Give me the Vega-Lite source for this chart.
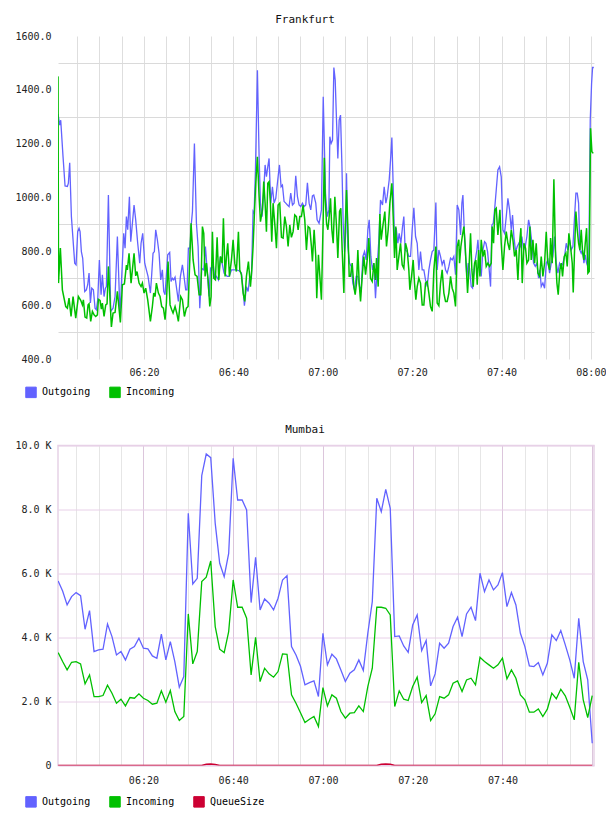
{
"$schema":"https://vega.github.io/schema/vega-lite/v6.json",
"background":"white",
"padding":{"left":14,"top":14,"right":0,"bottom":0},
"spacing":22.5,
"config":{
 "font":"DejaVu Sans Mono",
 "view":{"stroke":null},
 "axis":{"labelFont":"DejaVu Sans Mono","labelFontSize":10,"labelColor":"#222","domain":false,"ticks":false,"title":null,"labelOverlap":false,"labelFlush":false},
 "legend":{"orient":"none","legendX":-33,"legendY":350,"direction":"horizontal","title":null,"symbolType":"square","symbolSize":110,"labelFont":"DejaVu Sans Mono","labelFontSize":10,"labelColor":"#000","labelOffset":5,"columnPadding":16}
},
"datasets":{
"fraOut":[{"t":0.75,"v":1310},{"t":1.13,"v":1269},{"t":1.35,"v":1287},{"t":1.87,"v":1151},{"t":2.32,"v":1043},{"t":2.84,"v":1041},{"t":3.06,"v":1053},{"t":3.36,"v":1129},{"t":3.74,"v":929},{"t":4.48,"v":756},{"t":4.78,"v":750},{"t":5.15,"v":873},{"t":5.45,"v":886},{"t":5.68,"v":873},{"t":5.97,"v":799},{"t":6.27,"v":774},{"t":6.72,"v":651},{"t":7.09,"v":657},{"t":7.39,"v":676},{"t":7.69,"v":719},{"t":7.99,"v":608},{"t":8.29,"v":663},{"t":8.66,"v":657},{"t":9.03,"v":589},{"t":9.33,"v":583},{"t":9.63,"v":620},{"t":10.0,"v":768},{"t":10.38,"v":639},{"t":10.67,"v":713},{"t":11.05,"v":632},{"t":11.35,"v":663},{"t":11.57,"v":669},{"t":12.02,"v":1009},{"t":12.54,"v":577},{"t":13.06,"v":589},{"t":13.51,"v":632},{"t":14.03,"v":855},{"t":14.63,"v":558},{"t":15.0,"v":707},{"t":15.45,"v":867},{"t":15.75,"v":812},{"t":16.05,"v":929},{"t":16.34,"v":880},{"t":16.72,"v":1003},{"t":17.02,"v":836},{"t":17.39,"v":904},{"t":17.76,"v":972},{"t":18.13,"v":917},{"t":18.58,"v":830},{"t":19.03,"v":756},{"t":19.33,"v":830},{"t":19.7,"v":867},{"t":20.15,"v":756},{"t":20.52,"v":731},{"t":20.89,"v":707},{"t":21.42,"v":645},{"t":21.71,"v":713},{"t":22.01,"v":793},{"t":22.31,"v":799},{"t":22.61,"v":880},{"t":22.98,"v":843},{"t":23.36,"v":793},{"t":23.73,"v":694},{"t":24.1,"v":731},{"t":24.4,"v":651},{"t":24.7,"v":639},{"t":25.3,"v":787},{"t":25.74,"v":796},{"t":26.04,"v":688},{"t":26.34,"v":700},{"t":26.64,"v":694},{"t":26.94,"v":704},{"t":27.68,"v":614},{"t":28.13,"v":706},{"t":28.58,"v":750},{"t":28.95,"v":706},{"t":29.32,"v":657},{"t":29.62,"v":657},{"t":29.92,"v":812},{"t":30.29,"v":812},{"t":30.59,"v":904},{"t":30.83,"v":948},{"t":31.27,"v":1201},{"t":31.72,"v":904},{"t":32.1,"v":818},{"t":32.47,"v":589},{"t":32.92,"v":737},{"t":33.36,"v":731},{"t":33.74,"v":818},{"t":34.11,"v":731},{"t":34.56,"v":632},{"t":34.86,"v":737},{"t":35.15,"v":731},{"t":35.45,"v":756},{"t":35.83,"v":700},{"t":36.2,"v":707},{"t":36.65,"v":694},{"t":37.09,"v":781},{"t":37.47,"v":756},{"t":37.91,"v":719},{"t":38.29,"v":713},{"t":38.59,"v":707},{"t":39.03,"v":707},{"t":39.56,"v":731},{"t":40.08,"v":731},{"t":40.67,"v":731},{"t":41.27,"v":728},{"t":41.79,"v":719},{"t":42.17,"v":657},{"t":42.46,"v":598},{"t":42.91,"v":669},{"t":43.29,"v":651},{"t":43.66,"v":707},{"t":44.03,"v":700},{"t":44.4,"v":948},{"t":44.63,"v":941},{"t":44.93,"v":1102},{"t":45.37,"v":1473},{"t":45.75,"v":1151},{"t":46.05,"v":979},{"t":46.42,"v":929},{"t":46.79,"v":1028},{"t":47.09,"v":1121},{"t":47.39,"v":1077},{"t":47.69,"v":1114},{"t":47.98,"v":1145},{"t":48.36,"v":979},{"t":48.73,"v":1040},{"t":49.1,"v":979},{"t":49.48,"v":997},{"t":49.92,"v":1065},{"t":50.3,"v":1121},{"t":50.67,"v":1040},{"t":50.97,"v":1046},{"t":51.34,"v":985},{"t":51.71,"v":979},{"t":52.09,"v":972},{"t":52.46,"v":966},{"t":52.83,"v":1016},{"t":53.21,"v":972},{"t":53.58,"v":979},{"t":53.95,"v":1081},{"t":54.33,"v":1003},{"t":54.7,"v":972},{"t":55.07,"v":966},{"t":55.44,"v":979},{"t":55.82,"v":966},{"t":56.19,"v":972},{"t":56.56,"v":1055},{"t":56.94,"v":979},{"t":57.31,"v":954},{"t":57.68,"v":1006},{"t":57.98,"v":1009},{"t":58.43,"v":979},{"t":58.73,"v":917},{"t":59.17,"v":904},{"t":59.7,"v":954},{"t":60.1,"v":1374},{"t":60.61,"v":1016},{"t":60.99,"v":929},{"t":61.36,"v":954},{"t":61.58,"v":1226},{"t":61.88,"v":1201},{"t":62.18,"v":1213},{"t":62.48,"v":1483},{"t":62.78,"v":1436},{"t":63.07,"v":1288},{"t":63.37,"v":1145},{"t":63.67,"v":1288},{"t":63.97,"v":1306},{"t":64.27,"v":1127},{"t":64.57,"v":904},{"t":64.87,"v":799},{"t":65.16,"v":873},{"t":65.31,"v":1090},{"t":65.61,"v":818},{"t":65.98,"v":756},{"t":66.36,"v":744},{"t":66.73,"v":682},{"t":67.1,"v":657},{"t":67.48,"v":707},{"t":67.85,"v":707},{"t":68.22,"v":669},{"t":68.6,"v":657},{"t":68.97,"v":781},{"t":69.34,"v":799},{"t":69.71,"v":768},{"t":70.09,"v":880},{"t":70.39,"v":917},{"t":70.76,"v":781},{"t":71.13,"v":731},{"t":71.43,"v":756},{"t":71.8,"v":626},{"t":72.18,"v":744},{"t":72.55,"v":843},{"t":72.92,"v":991},{"t":73.37,"v":972},{"t":73.74,"v":1040},{"t":74.12,"v":979},{"t":74.41,"v":1003},{"t":74.86,"v":1065},{"t":75.16,"v":1139},{"t":75.46,"v":1223},{"t":75.76,"v":1040},{"t":76.06,"v":830},{"t":76.43,"v":886},{"t":76.8,"v":830},{"t":77.1,"v":867},{"t":77.47,"v":830},{"t":77.85,"v":892},{"t":78.14,"v":929},{"t":78.44,"v":805},{"t":78.89,"v":799},{"t":79.26,"v":781},{"t":79.64,"v":781},{"t":80.01,"v":880},{"t":80.38,"v":962},{"t":80.76,"v":855},{"t":81.13,"v":830},{"t":81.5,"v":731},{"t":81.87,"v":799},{"t":82.25,"v":731},{"t":82.62,"v":731},{"t":82.99,"v":694},{"t":83.37,"v":669},{"t":83.74,"v":731},{"t":84.11,"v":768},{"t":84.49,"v":799},{"t":84.86,"v":805},{"t":85.31,"v":981},{"t":85.6,"v":731},{"t":85.98,"v":805},{"t":86.35,"v":781},{"t":86.72,"v":750},{"t":87.1,"v":768},{"t":87.47,"v":731},{"t":87.84,"v":719},{"t":88.22,"v":744},{"t":88.59,"v":775},{"t":88.96,"v":768},{"t":89.33,"v":781},{"t":89.71,"v":713},{"t":90.08,"v":972},{"t":90.45,"v":954},{"t":90.84,"v":861},{"t":91.13,"v":979},{"t":91.36,"v":1009},{"t":91.66,"v":880},{"t":91.96,"v":781},{"t":92.25,"v":707},{"t":92.55,"v":756},{"t":92.85,"v":737},{"t":93.22,"v":669},{"t":93.52,"v":663},{"t":93.82,"v":731},{"t":94.12,"v":768},{"t":94.49,"v":805},{"t":94.72,"v":843},{"t":95.09,"v":750},{"t":95.46,"v":707},{"t":95.84,"v":805},{"t":96.21,"v":836},{"t":96.51,"v":830},{"t":96.88,"v":799},{"t":97.18,"v":744},{"t":97.55,"v":669},{"t":97.85,"v":898},{"t":98.15,"v":904},{"t":98.45,"v":954},{"t":98.82,"v":1028},{"t":99.19,"v":1102},{"t":99.57,"v":1114},{"t":99.94,"v":1077},{"t":100.31,"v":880},{"t":100.68,"v":867},{"t":101.06,"v":929},{"t":101.43,"v":997},{"t":101.8,"v":954},{"t":102.18,"v":880},{"t":102.47,"v":935},{"t":102.77,"v":855},{"t":103.15,"v":799},{"t":103.52,"v":818},{"t":103.89,"v":830},{"t":104.27,"v":818},{"t":104.56,"v":855},{"t":104.94,"v":805},{"t":105.31,"v":818},{"t":105.68,"v":855},{"t":106.06,"v":917},{"t":106.43,"v":886},{"t":106.8,"v":830},{"t":107.17,"v":756},{"t":107.55,"v":744},{"t":107.92,"v":756},{"t":108.29,"v":700},{"t":108.59,"v":731},{"t":108.89,"v":669},{"t":109.26,"v":682},{"t":109.64,"v":663},{"t":110.01,"v":756},{"t":110.38,"v":768},{"t":110.76,"v":719},{"t":111.13,"v":756},{"t":111.5,"v":781},{"t":111.87,"v":855},{"t":112.25,"v":756},{"t":112.62,"v":719},{"t":112.99,"v":756},{"t":113.37,"v":744},{"t":113.74,"v":756},{"t":114.11,"v":781},{"t":114.49,"v":830},{"t":114.86,"v":805},{"t":115.23,"v":843},{"t":115.6,"v":805},{"t":115.98,"v":818},{"t":116.35,"v":929},{"t":116.65,"v":1016},{"t":116.95,"v":1016},{"t":117.25,"v":979},{"t":117.54,"v":805},{"t":117.84,"v":793},{"t":118.14,"v":805},{"t":118.44,"v":756},{"t":118.74,"v":787},{"t":119.04,"v":756},{"t":119.33,"v":744},{"t":119.56,"v":781},{"t":119.86,"v":1288},{"t":120.16,"v":1424},{"t":120.38,"v":1483},{"t":120.66,"v":1483}],
"fraIn":[{"t":0.75,"v":1450},{"t":0.85,"v":682},{"t":1.27,"v":812},{"t":1.72,"v":657},{"t":2.47,"v":595},{"t":2.84,"v":589},{"t":3.21,"v":626},{"t":3.66,"v":558},{"t":4.11,"v":632},{"t":4.71,"v":552},{"t":5.3,"v":632},{"t":5.83,"v":618},{"t":6.2,"v":601},{"t":6.42,"v":620},{"t":6.79,"v":556},{"t":7.17,"v":552},{"t":7.47,"v":601},{"t":7.69,"v":605},{"t":8.06,"v":540},{"t":8.44,"v":577},{"t":8.81,"v":564},{"t":9.18,"v":558},{"t":9.56,"v":564},{"t":9.78,"v":622},{"t":10.15,"v":618},{"t":10.45,"v":585},{"t":10.67,"v":608},{"t":11.05,"v":558},{"t":11.42,"v":601},{"t":11.72,"v":605},{"t":12.02,"v":744},{"t":12.69,"v":519},{"t":13.06,"v":571},{"t":13.51,"v":573},{"t":14.03,"v":651},{"t":14.7,"v":536},{"t":15.15,"v":676},{"t":15.6,"v":679},{"t":16.05,"v":749},{"t":16.27,"v":731},{"t":16.64,"v":793},{"t":17.09,"v":682},{"t":17.39,"v":731},{"t":17.76,"v":793},{"t":18.13,"v":709},{"t":18.43,"v":725},{"t":18.88,"v":682},{"t":19.33,"v":669},{"t":19.63,"v":682},{"t":20.0,"v":645},{"t":20.37,"v":663},{"t":20.82,"v":620},{"t":21.42,"v":540},{"t":21.86,"v":595},{"t":22.16,"v":645},{"t":22.46,"v":632},{"t":22.76,"v":682},{"t":23.21,"v":645},{"t":23.58,"v":632},{"t":23.95,"v":595},{"t":24.33,"v":589},{"t":24.7,"v":546},{"t":25.0,"v":608},{"t":25.37,"v":762},{"t":25.82,"v":601},{"t":26.19,"v":583},{"t":26.49,"v":571},{"t":26.94,"v":595},{"t":27.31,"v":571},{"t":27.68,"v":540},{"t":28.21,"v":632},{"t":28.58,"v":620},{"t":29.03,"v":558},{"t":29.47,"v":589},{"t":29.85,"v":595},{"t":30.14,"v":725},{"t":30.52,"v":904},{"t":30.98,"v":768},{"t":31.42,"v":713},{"t":31.87,"v":707},{"t":32.32,"v":639},{"t":32.69,"v":639},{"t":33.06,"v":892},{"t":33.36,"v":867},{"t":33.66,"v":707},{"t":33.96,"v":756},{"t":34.33,"v":694},{"t":34.71,"v":595},{"t":35.0,"v":632},{"t":35.3,"v":873},{"t":35.6,"v":700},{"t":35.97,"v":694},{"t":36.35,"v":852},{"t":36.72,"v":694},{"t":37.09,"v":781},{"t":37.47,"v":756},{"t":37.76,"v":923},{"t":38.14,"v":707},{"t":38.44,"v":781},{"t":38.73,"v":830},{"t":39.11,"v":707},{"t":39.56,"v":768},{"t":39.93,"v":843},{"t":40.3,"v":756},{"t":40.67,"v":725},{"t":41.12,"v":873},{"t":41.42,"v":731},{"t":41.79,"v":713},{"t":42.17,"v":645},{"t":42.54,"v":614},{"t":42.91,"v":707},{"t":43.36,"v":762},{"t":43.81,"v":669},{"t":44.11,"v":731},{"t":44.4,"v":818},{"t":44.7,"v":941},{"t":45.0,"v":1053},{"t":45.37,"v":1151},{"t":45.75,"v":1003},{"t":46.05,"v":910},{"t":46.49,"v":954},{"t":46.79,"v":1059},{"t":47.09,"v":979},{"t":47.39,"v":873},{"t":47.69,"v":1053},{"t":47.98,"v":1059},{"t":48.28,"v":979},{"t":48.58,"v":836},{"t":48.88,"v":979},{"t":49.25,"v":904},{"t":49.63,"v":812},{"t":50.0,"v":972},{"t":50.37,"v":979},{"t":50.75,"v":852},{"t":51.12,"v":849},{"t":51.49,"v":929},{"t":51.86,"v":892},{"t":52.24,"v":818},{"t":52.61,"v":898},{"t":52.98,"v":852},{"t":53.36,"v":873},{"t":53.73,"v":935},{"t":54.1,"v":929},{"t":54.48,"v":880},{"t":54.85,"v":929},{"t":55.22,"v":929},{"t":55.59,"v":972},{"t":55.97,"v":917},{"t":56.34,"v":805},{"t":56.71,"v":892},{"t":57.09,"v":886},{"t":57.46,"v":818},{"t":57.68,"v":762},{"t":58.06,"v":880},{"t":58.43,"v":781},{"t":58.65,"v":626},{"t":59.03,"v":787},{"t":59.32,"v":713},{"t":59.7,"v":620},{"t":60.07,"v":904},{"t":60.35,"v":1148},{"t":60.54,"v":997},{"t":60.84,"v":904},{"t":61.14,"v":880},{"t":61.43,"v":929},{"t":61.73,"v":997},{"t":62.03,"v":880},{"t":62.33,"v":830},{"t":62.7,"v":1003},{"t":63.07,"v":892},{"t":63.37,"v":775},{"t":63.75,"v":948},{"t":64.04,"v":960},{"t":64.34,"v":805},{"t":64.72,"v":645},{"t":65.01,"v":880},{"t":65.31,"v":1028},{"t":65.61,"v":892},{"t":65.91,"v":707},{"t":66.21,"v":707},{"t":66.58,"v":756},{"t":66.95,"v":669},{"t":67.25,"v":639},{"t":67.55,"v":682},{"t":67.85,"v":805},{"t":68.15,"v":682},{"t":68.45,"v":614},{"t":68.82,"v":707},{"t":69.19,"v":781},{"t":69.57,"v":713},{"t":69.94,"v":768},{"t":70.31,"v":849},{"t":70.68,"v":700},{"t":71.06,"v":688},{"t":71.43,"v":756},{"t":71.8,"v":694},{"t":72.03,"v":775},{"t":72.4,"v":669},{"t":72.77,"v":939},{"t":73.07,"v":843},{"t":73.52,"v":904},{"t":73.89,"v":948},{"t":74.26,"v":818},{"t":74.64,"v":880},{"t":75.01,"v":979},{"t":75.46,"v":1053},{"t":75.76,"v":929},{"t":76.06,"v":775},{"t":76.35,"v":892},{"t":76.65,"v":731},{"t":77.03,"v":781},{"t":77.4,"v":830},{"t":77.77,"v":750},{"t":78.14,"v":737},{"t":78.52,"v":830},{"t":78.89,"v":805},{"t":79.26,"v":731},{"t":79.49,"v":657},{"t":79.86,"v":706},{"t":80.23,"v":768},{"t":80.53,"v":682},{"t":80.83,"v":620},{"t":81.13,"v":669},{"t":81.5,"v":700},{"t":81.87,"v":682},{"t":82.25,"v":601},{"t":82.62,"v":601},{"t":82.99,"v":682},{"t":83.37,"v":688},{"t":83.74,"v":645},{"t":84.11,"v":595},{"t":84.49,"v":577},{"t":84.86,"v":731},{"t":85.31,"v":818},{"t":85.6,"v":608},{"t":85.98,"v":598},{"t":86.35,"v":682},{"t":86.72,"v":731},{"t":87.1,"v":645},{"t":87.47,"v":614},{"t":87.84,"v":614},{"t":88.22,"v":645},{"t":88.59,"v":707},{"t":88.96,"v":663},{"t":89.33,"v":645},{"t":89.71,"v":595},{"t":90.08,"v":818},{"t":90.45,"v":843},{"t":90.61,"v":756},{"t":90.91,"v":818},{"t":91.21,"v":855},{"t":91.58,"v":892},{"t":91.88,"v":818},{"t":92.18,"v":719},{"t":92.4,"v":645},{"t":92.7,"v":731},{"t":93.07,"v":867},{"t":93.37,"v":731},{"t":93.67,"v":669},{"t":93.97,"v":756},{"t":94.27,"v":768},{"t":94.57,"v":676},{"t":94.87,"v":805},{"t":95.16,"v":707},{"t":95.46,"v":843},{"t":95.84,"v":781},{"t":96.21,"v":805},{"t":96.58,"v":744},{"t":96.95,"v":756},{"t":97.33,"v":744},{"t":97.7,"v":756},{"t":97.92,"v":892},{"t":98.22,"v":830},{"t":98.52,"v":954},{"t":98.82,"v":960},{"t":99.19,"v":861},{"t":99.64,"v":954},{"t":99.94,"v":830},{"t":100.31,"v":731},{"t":100.68,"v":818},{"t":101.06,"v":873},{"t":101.43,"v":830},{"t":101.8,"v":805},{"t":102.18,"v":880},{"t":102.55,"v":843},{"t":102.92,"v":781},{"t":103.3,"v":805},{"t":103.67,"v":694},{"t":104.04,"v":830},{"t":104.34,"v":886},{"t":104.64,"v":682},{"t":105.01,"v":830},{"t":105.38,"v":812},{"t":105.68,"v":756},{"t":106.06,"v":768},{"t":106.35,"v":892},{"t":106.65,"v":768},{"t":107.03,"v":843},{"t":107.4,"v":756},{"t":107.77,"v":830},{"t":108.14,"v":719},{"t":108.52,"v":707},{"t":108.89,"v":781},{"t":109.26,"v":707},{"t":109.64,"v":756},{"t":110.01,"v":873},{"t":110.38,"v":756},{"t":110.76,"v":731},{"t":110.98,"v":849},{"t":111.35,"v":756},{"t":111.72,"v":1068},{"t":112.1,"v":781},{"t":112.4,"v":682},{"t":112.69,"v":639},{"t":113.07,"v":731},{"t":113.37,"v":756},{"t":113.66,"v":707},{"t":114.04,"v":781},{"t":114.41,"v":793},{"t":114.71,"v":744},{"t":115.08,"v":867},{"t":115.45,"v":818},{"t":115.83,"v":756},{"t":116.05,"v":647},{"t":116.35,"v":805},{"t":116.65,"v":948},{"t":116.95,"v":880},{"t":117.25,"v":830},{"t":117.54,"v":805},{"t":117.84,"v":880},{"t":118.14,"v":799},{"t":118.44,"v":768},{"t":118.74,"v":830},{"t":119.04,"v":886},{"t":119.33,"v":719},{"t":119.63,"v":725},{"t":119.93,"v":1257},{"t":120.23,"v":1170},{"t":120.53,"v":1164}],
"mum":[{"t":1,"Outgoing":5767,"Incoming":3529,"QueueSize":0},{"t":2,"Outgoing":5455,"Incoming":3248,"QueueSize":0},{"t":3,"Outgoing":5018,"Incoming":2988,"QueueSize":0},{"t":4,"Outgoing":5278,"Incoming":3227,"QueueSize":0},{"t":5,"Outgoing":5403,"Incoming":3248,"QueueSize":0},{"t":6,"Outgoing":5309,"Incoming":3175,"QueueSize":0},{"t":7,"Outgoing":4258,"Incoming":2550,"QueueSize":0},{"t":8,"Outgoing":4841,"Incoming":2831,"QueueSize":0},{"t":9,"Outgoing":3560,"Incoming":2155,"QueueSize":0},{"t":10,"Outgoing":3612,"Incoming":2155,"QueueSize":0},{"t":11,"Outgoing":3633,"Incoming":2186,"QueueSize":0},{"t":12,"Outgoing":4424,"Incoming":2509,"QueueSize":0},{"t":13,"Outgoing":4029,"Incoming":2259,"QueueSize":0},{"t":14,"Outgoing":3456,"Incoming":1947,"QueueSize":0},{"t":15,"Outgoing":3560,"Incoming":2072,"QueueSize":0},{"t":16,"Outgoing":3300,"Incoming":1863,"QueueSize":0},{"t":17,"Outgoing":3633,"Incoming":2124,"QueueSize":0},{"t":18,"Outgoing":3716,"Incoming":2103,"QueueSize":0},{"t":19,"Outgoing":3977,"Incoming":2238,"QueueSize":0},{"t":20,"Outgoing":3664,"Incoming":2103,"QueueSize":0},{"t":21,"Outgoing":3643,"Incoming":2030,"QueueSize":0},{"t":22,"Outgoing":3425,"Incoming":1915,"QueueSize":0},{"t":23,"Outgoing":3352,"Incoming":1947,"QueueSize":0},{"t":24,"Outgoing":4102,"Incoming":2332,"QueueSize":0},{"t":25,"Outgoing":3300,"Incoming":1978,"QueueSize":0},{"t":26,"Outgoing":3872,"Incoming":2342,"QueueSize":0},{"t":27,"Outgoing":3248,"Incoming":1686,"QueueSize":0},{"t":28,"Outgoing":2446,"Incoming":1405,"QueueSize":0},{"t":29,"Outgoing":2779,"Incoming":1530,"QueueSize":0},{"t":30,"Outgoing":7880,"Incoming":4737,"QueueSize":0},{"t":31,"Outgoing":5673,"Incoming":3175,"QueueSize":0},{"t":32,"Outgoing":5850,"Incoming":3560,"QueueSize":0},{"t":33,"Outgoing":9057,"Incoming":5746,"QueueSize":0},{"t":34,"Outgoing":9734,"Incoming":5882,"QueueSize":40},{"t":35,"Outgoing":9619,"Incoming":6392,"QueueSize":50},{"t":36,"Outgoing":7568,"Incoming":4341,"QueueSize":30},{"t":37,"Outgoing":6319,"Incoming":3633,"QueueSize":0},{"t":38,"Outgoing":5902,"Incoming":3529,"QueueSize":0},{"t":39,"Outgoing":6631,"Incoming":4185,"QueueSize":0},{"t":40,"Outgoing":9598,"Incoming":5798,"QueueSize":0},{"t":41,"Outgoing":8297,"Incoming":4945,"QueueSize":0},{"t":42,"Outgoing":8297,"Incoming":4945,"QueueSize":0},{"t":43,"Outgoing":7985,"Incoming":4601,"QueueSize":0},{"t":44,"Outgoing":5091,"Incoming":2831,"QueueSize":0},{"t":45,"Outgoing":6506,"Incoming":4008,"QueueSize":0},{"t":46,"Outgoing":4862,"Incoming":2623,"QueueSize":0},{"t":47,"Outgoing":5205,"Incoming":3040,"QueueSize":0},{"t":48,"Outgoing":5070,"Incoming":2863,"QueueSize":0},{"t":49,"Outgoing":4862,"Incoming":2759,"QueueSize":0},{"t":50,"Outgoing":5226,"Incoming":2936,"QueueSize":0},{"t":51,"Outgoing":5798,"Incoming":3487,"QueueSize":0},{"t":52,"Outgoing":5934,"Incoming":3477,"QueueSize":0},{"t":53,"Outgoing":3716,"Incoming":2207,"QueueSize":0},{"t":54,"Outgoing":3456,"Incoming":1947,"QueueSize":0},{"t":55,"Outgoing":3100,"Incoming":1650,"QueueSize":0},{"t":56,"Outgoing":2519,"Incoming":1343,"QueueSize":0},{"t":57,"Outgoing":2592,"Incoming":1447,"QueueSize":0},{"t":58,"Outgoing":2644,"Incoming":1530,"QueueSize":0},{"t":59,"Outgoing":2155,"Incoming":1218,"QueueSize":0},{"t":60,"Outgoing":4133,"Incoming":2436,"QueueSize":0},{"t":61,"Outgoing":3144,"Incoming":1863,"QueueSize":0},{"t":62,"Outgoing":3477,"Incoming":2207,"QueueSize":0},{"t":63,"Outgoing":3331,"Incoming":2103,"QueueSize":0},{"t":64,"Outgoing":2988,"Incoming":1686,"QueueSize":0},{"t":65,"Outgoing":2623,"Incoming":1478,"QueueSize":0},{"t":66,"Outgoing":2883,"Incoming":1634,"QueueSize":0},{"t":67,"Outgoing":2988,"Incoming":1655,"QueueSize":0},{"t":68,"Outgoing":3300,"Incoming":1863,"QueueSize":0},{"t":69,"Outgoing":2967,"Incoming":1686,"QueueSize":0},{"t":70,"Outgoing":4133,"Incoming":2467,"QueueSize":0},{"t":71,"Outgoing":5122,"Incoming":3040,"QueueSize":0},{"t":72,"Outgoing":8349,"Incoming":4945,"QueueSize":0},{"t":73,"Outgoing":7932,"Incoming":4945,"QueueSize":40},{"t":74,"Outgoing":8630,"Incoming":4914,"QueueSize":50},{"t":75,"Outgoing":8037,"Incoming":4705,"QueueSize":40},{"t":76,"Outgoing":4029,"Incoming":1842,"QueueSize":0},{"t":77,"Outgoing":4050,"Incoming":2332,"QueueSize":0},{"t":78,"Outgoing":3737,"Incoming":2072,"QueueSize":0},{"t":79,"Outgoing":3539,"Incoming":2030,"QueueSize":0},{"t":80,"Outgoing":4393,"Incoming":2467,"QueueSize":0},{"t":81,"Outgoing":4705,"Incoming":2759,"QueueSize":0},{"t":82,"Outgoing":3591,"Incoming":1968,"QueueSize":0},{"t":83,"Outgoing":3904,"Incoming":2186,"QueueSize":0},{"t":84,"Outgoing":2488,"Incoming":1405,"QueueSize":0},{"t":85,"Outgoing":2863,"Incoming":1614,"QueueSize":0},{"t":86,"Outgoing":3820,"Incoming":2155,"QueueSize":0},{"t":87,"Outgoing":3664,"Incoming":2103,"QueueSize":0},{"t":88,"Outgoing":3820,"Incoming":2207,"QueueSize":0},{"t":89,"Outgoing":4341,"Incoming":2571,"QueueSize":0},{"t":90,"Outgoing":4632,"Incoming":2644,"QueueSize":0},{"t":91,"Outgoing":4029,"Incoming":2311,"QueueSize":0},{"t":92,"Outgoing":4737,"Incoming":2675,"QueueSize":0},{"t":93,"Outgoing":4945,"Incoming":2727,"QueueSize":0},{"t":94,"Outgoing":4528,"Incoming":2519,"QueueSize":0},{"t":95,"Outgoing":6007,"Incoming":3383,"QueueSize":0},{"t":96,"Outgoing":5434,"Incoming":3248,"QueueSize":0},{"t":97,"Outgoing":5798,"Incoming":3144,"QueueSize":0},{"t":98,"Outgoing":5486,"Incoming":3040,"QueueSize":0},{"t":99,"Outgoing":5642,"Incoming":3144,"QueueSize":0},{"t":100,"Outgoing":6027,"Incoming":3352,"QueueSize":0},{"t":101,"Outgoing":4966,"Incoming":2706,"QueueSize":0},{"t":102,"Outgoing":5403,"Incoming":2988,"QueueSize":0},{"t":103,"Outgoing":5018,"Incoming":2727,"QueueSize":0},{"t":104,"Outgoing":4133,"Incoming":2207,"QueueSize":0},{"t":105,"Outgoing":3716,"Incoming":2051,"QueueSize":0},{"t":106,"Outgoing":3113,"Incoming":1665,"QueueSize":0},{"t":107,"Outgoing":3092,"Incoming":1665,"QueueSize":0},{"t":108,"Outgoing":3217,"Incoming":1770,"QueueSize":0},{"t":109,"Outgoing":2831,"Incoming":1530,"QueueSize":0},{"t":110,"Outgoing":3196,"Incoming":1759,"QueueSize":0},{"t":111,"Outgoing":4081,"Incoming":2259,"QueueSize":0},{"t":112,"Outgoing":3904,"Incoming":2082,"QueueSize":0},{"t":113,"Outgoing":4216,"Incoming":2384,"QueueSize":0},{"t":114,"Outgoing":3768,"Incoming":2176,"QueueSize":0},{"t":115,"Outgoing":3300,"Incoming":1822,"QueueSize":0},{"t":116,"Outgoing":2727,"Incoming":1426,"QueueSize":0},{"t":117,"Outgoing":4601,"Incoming":3227,"QueueSize":0},{"t":118,"Outgoing":3248,"Incoming":2051,"QueueSize":0},{"t":119,"Outgoing":2675,"Incoming":1499,"QueueSize":0},{"t":120,"Outgoing":697,"Incoming":2186,"QueueSize":0}]
},
"vconcat":[
{
 "width":536,"height":323,
 "title":{"text":"Frankfurt","anchor":"middle","frame":"group","dx":-21,"offset":6,"font":"DejaVu Sans Mono","fontSize":11,"fontWeight":"normal","color":"#111"},
 "encoding":{
  "x":{"field":"t","type":"quantitative","scale":{"domain":[0.74,120.7],"nice":false,"zero":false},
   "axis":{"values":[5,10,15,20,25,30,35,40,45,50,55,60,65,70,75,80,85,90,95,100,105,110,115,120],"labelExpr":"datum.value % 20 == 0 ? '0' + (6 + floor(datum.value / 60)) + ':' + (datum.value % 60 == 0 ? '00' : datum.value % 60) : ''","grid":true,"gridColor":"#dedede","labelPadding":8}},
  "y":{"field":"v","type":"quantitative","scale":{"domain":[400,1600],"nice":false,"zero":false},
   "axis":{"values":[400,500,600,700,800,900,1000,1100,1200,1300,1400,1500,1600],"labelExpr":"datum.value % 200 == 0 ? format(datum.value, '.1f') : ''","grid":true,"gridColor":"#dadada","gridOpacity":{"condition":{"test":"datum.value % 200 == 100","value":1},"value":0},"labelPadding":7}}
 },
 "layer":[
  {"data":{"name":"fraOut"},"mark":{"type":"line","strokeWidth":1.3,"clip":true},
   "encoding":{
    "color":{"datum":"Outgoing","type":"nominal","scale":{"domain":["Outgoing","Incoming"],"range":["#6262ff","#00c000"]},
     "legend":{"encode":{"symbols":{"update":{"fill":{"signal":"datum.value === 'Outgoing' ? '#6262ff' : (datum.value === 'Incoming' ? '#00c000' : '#cc0033')"},"stroke":{"value":"#999"},"strokeWidth":{"value":1},"opacity":{"value":1},"fillOpacity":{"value":1}}}}}}
   }},
  {"data":{"name":"fraIn"},"mark":{"type":"line","strokeWidth":1.5,"clip":true},
   "encoding":{
    "color":{"datum":"Incoming","type":"nominal"}
   }}
 ]
},
{
 "width":536,"height":320,
 "title":{"text":"Mumbai","anchor":"middle","frame":"group","dx":-21,"offset":6,"font":"DejaVu Sans Mono","fontSize":11,"fontWeight":"normal","color":"#111"},
 "data":{"name":"mum"},
 "view":{"stroke":"#e6d2e6","strokeWidth":1.5},
 "encoding":{
  "x":{"field":"t","type":"quantitative","scale":{"domain":[0.97,120.4],"nice":false,"zero":false},
   "axis":{"values":[5,10,15,20,25,30,35,40,45,50,55,60,65,70,75,80,85,90,95,100,105,110,115,120],"labelExpr":"datum.value % 20 == 0 && datum.value <= 100 ? '0' + (6 + floor(datum.value / 60)) + ':' + (datum.value % 60 == 0 ? '00' : datum.value % 60) : ''","grid":true,"gridColor":{"condition":{"test":"datum.value % 20 == 0","value":"#dcc6dc"},"value":"#e6e6e6"},"labelPadding":10}}
 },
 "layer":[
  {"mark":{"type":"line","strokeWidth":1.3,"clip":true},
   "encoding":{
    "y":{"field":"Outgoing","type":"quantitative","scale":{"domain":[0,10000],"nice":false},
     "axis":{"values":[0,1000,2000,3000,4000,5000,6000,7000,8000,9000,10000],"labelExpr":"datum.value == 0 ? '0' : (datum.value % 2000 == 0 ? format(datum.value / 1000, '.1f') + ' K' : '')","grid":true,"gridColor":{"condition":{"test":"datum.value % 2000 == 0","value":"#e8d0e8"},"value":"#e6e6e6"},"labelPadding":7}},
    "color":{"datum":"Outgoing","type":"nominal","scale":{"domain":["Outgoing","Incoming","QueueSize"],"range":["#6262ff","#00c000","#cc0033"]},
     "legend":{"encode":{"symbols":{"update":{"fill":{"signal":"datum.value === 'Outgoing' ? '#6262ff' : (datum.value === 'Incoming' ? '#00c000' : '#cc0033')"},"stroke":{"value":"#999"},"strokeWidth":{"value":1},"opacity":{"value":1},"fillOpacity":{"value":1}}}}}}
   }},
  {"mark":{"type":"line","strokeWidth":1.3,"clip":true},
   "encoding":{"y":{"field":"Incoming","type":"quantitative"},"color":{"datum":"Incoming","type":"nominal"}}},
  {"mark":{"type":"line","strokeWidth":1.5,"clip":true},
   "encoding":{"y":{"field":"QueueSize","type":"quantitative"},"color":{"datum":"QueueSize","type":"nominal"}}}
 ]
}
],
"resolve":{"scale":{"color":"independent"},"legend":{"color":"independent"}}
}
